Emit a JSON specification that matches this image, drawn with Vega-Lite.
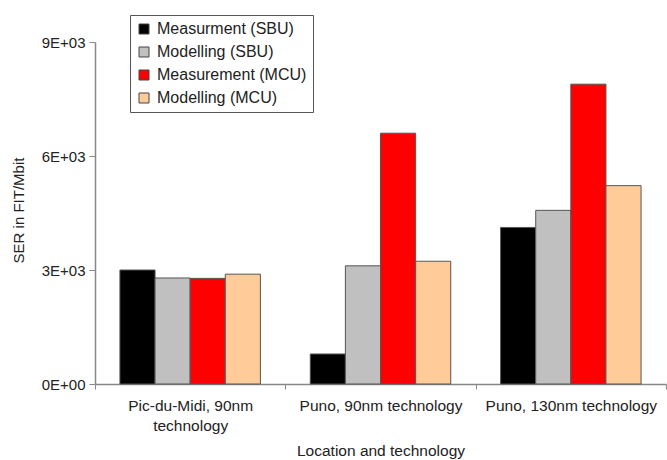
{
  "$schema": "https://vega.github.io/schema/vega-lite/v6.json",
  "width": 571,
  "height": 342,
  "autosize": {"type": "none"},
  "padding": {"left": 95, "top": 42, "right": 1, "bottom": 76},
  "background": "white",
  "config": {
    "view": {"stroke": null},
    "font": "Liberation Sans",
    "axis": {"labelFont": "Liberation Sans", "titleFont": "Liberation Sans"}
  },
  "data": {
    "values": [
      {"location": "Pic-du-Midi, 90nm technology", "series": "Measurment (SBU)", "ser": 3000},
      {"location": "Pic-du-Midi, 90nm technology", "series": "Modelling (SBU)", "ser": 2790},
      {"location": "Pic-du-Midi, 90nm technology", "series": "Measurement (MCU)", "ser": 2780},
      {"location": "Pic-du-Midi, 90nm technology", "series": "Modelling (MCU)", "ser": 2890},
      {"location": "Puno, 90nm technology", "series": "Measurment (SBU)", "ser": 790},
      {"location": "Puno, 90nm technology", "series": "Modelling (SBU)", "ser": 3110},
      {"location": "Puno, 90nm technology", "series": "Measurement (MCU)", "ser": 6600},
      {"location": "Puno, 90nm technology", "series": "Modelling (MCU)", "ser": 3230},
      {"location": "Puno, 130nm technology", "series": "Measurment (SBU)", "ser": 4120},
      {"location": "Puno, 130nm technology", "series": "Modelling (SBU)", "ser": 4570},
      {"location": "Puno, 130nm technology", "series": "Measurement (MCU)", "ser": 7890},
      {"location": "Puno, 130nm technology", "series": "Modelling (MCU)", "ser": 5220}
    ]
  },
  "mark": {"type": "bar", "stroke": "#555555", "strokeWidth": 1},
  "encoding": {
    "x": {
      "field": "location",
      "type": "nominal",
      "sort": ["Pic-du-Midi, 90nm technology", "Puno, 90nm technology", "Puno, 130nm technology"],
      "scale": {"paddingInner": 0, "paddingOuter": 0},
      "axis": {
        "title": "Location and technology",
        "titleFontSize": 15.5,
        "titleFontWeight": "normal",
        "titleColor": "#222222",
        "titleBaseline": "middle",
        "titleY": 66,
        "labelAngle": 0,
        "labelFontSize": 15.5,
        "labelColor": "#222222",
        "labelPadding": 9,
        "labelLineHeight": 20,
        "labelExpr": "datum.value == 'Pic-du-Midi, 90nm technology' ? ['Pic-du-Midi, 90nm', 'technology'] : datum.value",
        "tickBand": "extent",
        "tickSize": 5,
        "tickColor": "#888888",
        "domainColor": "#888888",
        "domainWidth": 1.5
      }
    },
    "xOffset": {
      "field": "series",
      "type": "nominal",
      "sort": ["Measurment (SBU)", "Modelling (SBU)", "Measurement (MCU)", "Modelling (MCU)"],
      "scale": {"paddingInner": 0, "paddingOuter": 0.71}
    },
    "y": {
      "field": "ser",
      "type": "quantitative",
      "scale": {"domain": [0, 9000], "nice": false},
      "axis": {
        "title": "SER in FIT/Mbit",
        "titleFontSize": 15,
        "titleFontWeight": "normal",
        "titleColor": "#222222",
        "titleBaseline": "middle",
        "titleX": -77,
        "titleY": 168,
        "values": [0, 3000, 6000, 9000],
        "labelExpr": "datum.value == 0 ? '0E+00' : (datum.value / 1000) + 'E+03'",
        "labelFontSize": 15,
        "labelColor": "#222222",
        "labelPadding": 4,
        "tickSize": 6,
        "tickColor": "#888888",
        "domainColor": "#888888",
        "domainWidth": 1.5,
        "grid": false
      }
    },
    "color": {
      "field": "series",
      "type": "nominal",
      "scale": {
        "domain": ["Measurment (SBU)", "Modelling (SBU)", "Measurement (MCU)", "Modelling (MCU)"],
        "range": ["#000000", "#c0c0c0", "#ff0000", "#ffcc99"]
      },
      "legend": {
        "title": null,
        "orient": "none",
        "legendX": 35,
        "legendY": -27,
        "padding": 6,
        "strokeColor": "#555555",
        "fillColor": "white",
        "symbolType": "square",
        "symbolSize": 100,
        "symbolStrokeColor": "#444444",
        "symbolStrokeWidth": 1,
        "labelFontSize": 16,
        "labelColor": "#222222",
        "labelOffset": 5,
        "rowPadding": 7
      }
    }
  }
}
